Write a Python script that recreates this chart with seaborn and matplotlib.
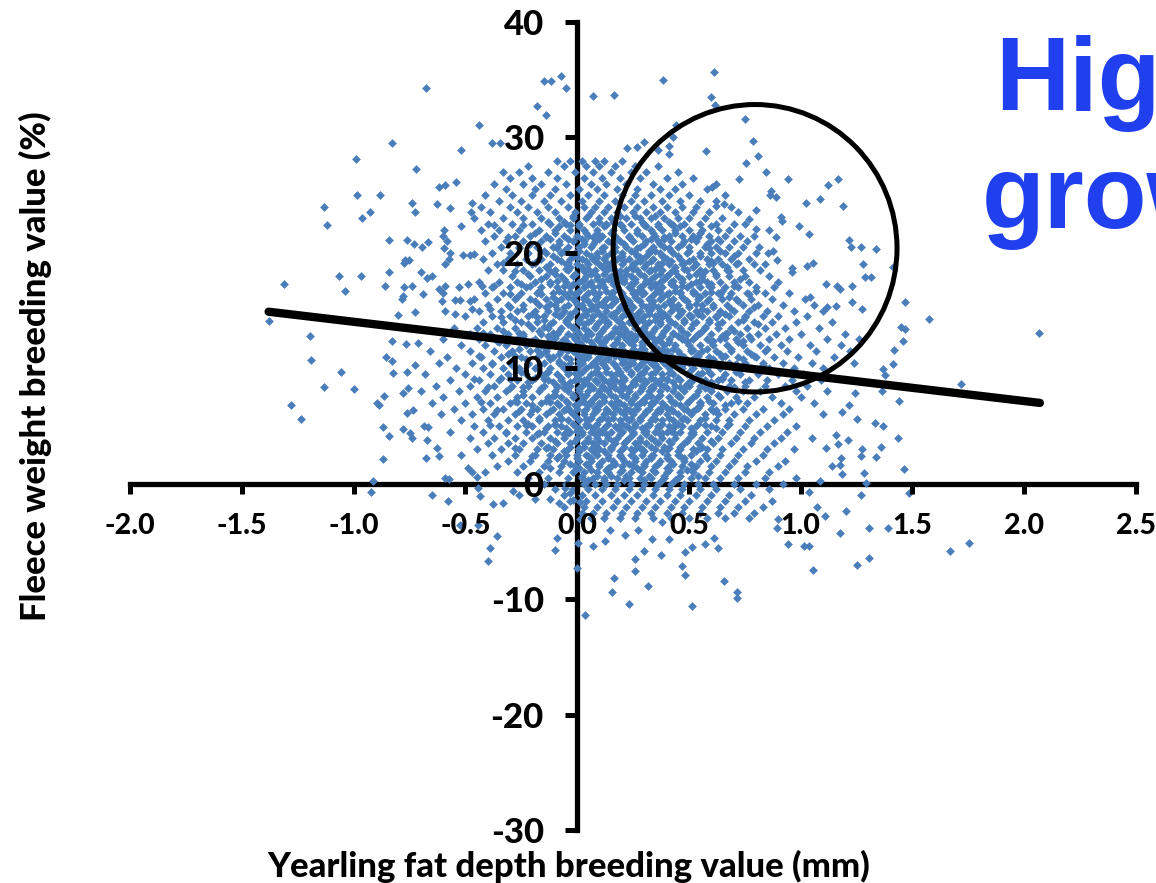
import pandas as pd
import matplotlib
matplotlib.use("Agg")
import matplotlib.pyplot as plt
import seaborn as sns
from matplotlib.patches import Ellipse

# sparse animals around the edge of the cloud, read one by one
edge_fat = [-.675,-.147,-.117,-.07,-.05,-.18,-.14,-.44,-.83,-.52,-.38,-.345,-.99,-.72,-.62,-.59,-.54,-.985,-.88,-1.13,-1.12,-.96,-.925,-.74,-.725,-.625,-.57,-.47,-.475,-.84,-.76,-.73,-.695,-.665,-1.065,-.965,-1.31,-1.04,-.84,-.86,
            -.77,-.75,-.775,-.7,-.672,-.65,-.59,-.568,-.575,-.595,-.58,-.595,-.6,-.51,-.48,-.46,-.52,-.37,-.62,-.59,-.53,-.49,-.425,-.775,-.74,-.78,-.785,-.69,-.605,-.6,-.545,-.525,-.48,-.8,-.725,-.59,-.545,-.47,
            .611,.382,.166,.072,.6,.619,.752,.441,.428,.297,.268,.222,.411,.362,.41,.577,.785,.81,.757,.847,.944,.725,1.165,1.123,.602,.869,.865,.89,1.086,1.023,1.189,.659,.62,.798,.911,.916,.993,1.038,1.217,1.224,1.269,1.339,1.277,1.29,1.315,1.415,1.113,1.162,1.177,1.229,1.231,1.274,1.466,1.12,1.156,1.572,1.043,.96,.96,1.03,1.054,.893,.853,.878,.814,.86,.888,.8,.77,
            2.065,1.715,1.467,1.448,1.459,1.417,1.412,1.37,1.378,1.366,1.438,1.244,1.214,1.186,1.251,1.332,1.37,1.435,1.36,1.336,1.461,1.274,1.269,1.21,1.157,1.169,1.114,1.18,1.177,1.142,1.187,1.284,1.291,1.087,1.036,1.269,1.483,1.202,1.107,1.075,1.175,1.306,1.39,1.755,1.67,1.306,1.254,1.057,.943,1.017,1.038,.893,.9,.714,.716,.655,.514,.481,.468,.23,.316,.156,.165,.26,.26,.377,.297,.631,.57,.614,.513,.483,.125,.073,.148,.216,.274,.334,.41,.379,
            -1.196,-1.19,-1.057,-1.13,-.998,-1.278,-1.233,-1.377,-.897,-.885,-.863,-.867,-.84,-.868,-.914,-.92,-.827,-.855,-.828,-.822,-.767,-.71,-.726,-.76,-.777,-.755,-.76,-.732,-.777,-.747,-.74,-.687,-.665,-.67,-.675,-.62,-.626,-.59,-.575,-.65,-.578,-.52,-.49,-.47,-.448,-.41,-.445,-.436,-.375,-.33,-.285,-.258,-.19,-.36,-.39,-.4,-.526,-.445,-.12,-.09,-.098,.006,.001,.035,.013,.013,-.083,-.06,-.055,-.032,-.017]
edge_fleece = [34.3,34.9,34.9,35.3,34.3,32.7,31.9,31.1,29.5,28.9,29.5,29.5,28.1,27.3,25.7,25.9,26.1,25,25,24,22.4,23,23.5,24.3,23.5,24.2,23.9,24.3,23.5,21.1,21.1,20.8,20.5,20.9,18,18,17.3,16.7,18.3,17.1,
               19.4,19.4,19.1,18.3,17.8,18,19,20,19.5,20.4,21,22,21.5,19.8,19.8,19.9,22.3,22.4,16.9,17.1,17,17.3,17.1,17,17.1,16.3,16,16.4,15.8,16.5,15.9,15.9,15.8,14.6,14.9,15,14.7,15.1,
               35.7,35,33.7,33.6,33.5,32.8,31.6,31.1,30,29.6,29.2,29.1,29.3,28.9,28.6,28.8,29.7,28.4,27.8,27,26.4,26.4,26.4,25.9,25.7,25.4,25,24.8,24.7,24.3,24.1,24.2,24.1,23.7,23.1,22.8,22.3,21.6,21.1,20.5,20.5,20.3,19,17.9,17.9,18.8,17.3,17.1,16.9,17.1,15.7,15.1,15.7,15.3,15.4,14.3,16.2,18.7,18.3,18.9,19.1,19.4,20,20.2,20.5,22,21.4,22.1,22.9,
               13.1,8.6,13.4,13.6,12.4,11.6,10.4,9.9,9.4,8,7.2,7.9,6.8,6.2,5.6,5.3,5,4,3.2,2.3,1.3,3,2.4,3.8,4.2,3.4,3.1,2.2,1.6,1.5,.8,.9,.1,.2,-.7,-1,-.8,-2.4,-2.8,-2,-4.3,-3.8,-3.8,-5.1,-5.8,-6.4,-7,-7.5,-5.2,-5.4,-5.4,-3.8,-3.1,-9.4,-9.9,-8.4,-10.6,-7.9,-7.1,-10.4,-8.9,-9.4,-8.2,-7.6,-6.5,-6.2,-5.8,-5.6,-5.2,-4.7,-5.5,-5.9,-5,-5.4,-4,-4.4,-4,-4.8,-4.8,-3.3,
               12.8,10.7,9.7,8.4,8.2,6.8,5.6,14.1,7,6.8,7.6,4.9,4.1,2.1,.2,-.7,12.4,11,10.6,9.6,12.1,12.2,10.3,9.7,7.9,8.3,6.1,6.4,4.7,4.4,4,5,4.9,3.8,2.2,2.4,3.1,.5,.4,-1,-1.5,2.5,1.4,1,.6,1,-.4,-1.1,-1.8,-1.7,-.6,-1,-1.3,-4.5,-5.6,-6.7,-3.6,-3.6,-1.3,-4.7,-5.7,-5.1,-7.3,-11.4,-3.1,-1.6,-1.7,-2,-.4,-.8,-1.4]

# the dense middle of the cloud, estimated row by row (fleece level, then fat depths)
core_levels = [28,27.5,27,26.5,26,25.5,25,24.5,24,23.5,23,22.5,22,21.5,21,20.5,20,19.5,19,18.5,18,17.5,17,16.5,16,15.5,15,14.5,14,13.5,13,12.5,12,11.5,11,10.5,10,9.5,9,8.5,8,7.5,7,6.5,6,5.5,5,4.5,4,3.5,3,2.5,2,1.5,1,.5,0,-.5,-1,-1.5,-2,-2.5,-3]
core_fat = [
    [-.09,-.03,.02,.08,.12,.2],
    [-.22,-.06,.04,.1,.17,.26,.36],
    [-.33,-.26,-.13,-.01,.07,.15,.24,.31,.45],
    [-.3,-.2,-.09,.03,.11,.19,.28,.4,.52],
    [-.37,-.24,-.16,-.05,.06,.13,.22,.34,.47,.62],
    [-.32,-.19,-.1,.01,.09,.18,.27,.37,.44,.58],
    [-.41,-.29,-.2,-.12,-.03,.05,.12,.2,.26,.33,.41,.5,.66],
    [-.35,-.25,-.15,-.07,.02,.1,.17,.24,.3,.38,.46,.55,.62],
    [-.43,-.3,-.22,-.13,-.04,.03,.08,.14,.21,.27,.34,.4,.47,.53,.69],
    [-.39,-.27,-.18,-.1,-.01,.06,.12,.18,.25,.31,.37,.44,.52,.59,.72],
    [-.46,-.33,-.24,-.16,-.08,-.02,.04,.1,.15,.22,.28,.33,.39,.45,.5,.57,.65],
    [-.4,-.29,-.2,-.12,-.05,.01,.07,.13,.19,.24,.3,.36,.42,.48,.55,.62,.7,.75],
    [-.43,-.35,-.26,-.17,-.1,-.03,.03,.09,.16,.21,.27,.33,.38,.44,.5,.56,.63,.68],
    [-.37,-.28,-.21,-.14,-.06,0,.05,.11,.17,.23,.29,.35,.41,.47,.52,.59,.66,.73,.79],
    [-.41,-.32,-.24,-.16,-.08,-.02,.03,.08,.14,.19,.25,.31,.36,.42,.48,.53,.6,.64,.7,.76],
    [-.34,-.26,-.18,-.11,-.04,.01,.06,.12,.17,.22,.28,.34,.39,.45,.5,.57,.62,.68,.74],
    [-.38,-.3,-.22,-.14,-.07,-.01,.04,.09,.15,.2,.26,.32,.37,.43,.49,.55,.6,.66,.72,.8],
    [-.42,-.31,-.23,-.16,-.09,-.03,.02,.07,.12,.18,.23,.29,.34,.4,.46,.52,.58,.63,.69,.77],
    [-.36,-.27,-.2,-.12,-.05,0,.05,.1,.14,.2,.25,.31,.36,.41,.47,.53,.59,.65,.71,.79,.84],
    [-.4,-.33,-.24,-.17,-.1,-.04,.03,.08,.13,.17,.22,.27,.33,.38,.43,.49,.55,.61,.67,.74,.82],
    [-.29,-.21,-.14,-.07,-.02,.04,.09,.15,.19,.24,.3,.35,.4,.45,.5,.56,.62,.68,.75,.86],
    [-.44,-.35,-.27,-.19,-.12,-.05,.01,.06,.11,.16,.21,.26,.32,.37,.42,.47,.53,.58,.64,.7,.77,.9],
    [-.38,-.3,-.23,-.16,-.09,-.03,.03,.07,.12,.18,.23,.28,.33,.38,.44,.49,.55,.6,.66,.72,.8,.88],
    [-.41,-.33,-.25,-.18,-.11,-.06,0,.05,.1,.15,.2,.25,.3,.35,.41,.46,.52,.57,.63,.69,.76,.84,.95],
    [-.46,-.36,-.28,-.21,-.14,-.07,-.02,.03,.08,.13,.17,.22,.27,.32,.37,.43,.48,.54,.59,.65,.71,.78,.87,1.02],
    [-.4,-.31,-.24,-.17,-.1,-.04,.02,.06,.11,.15,.2,.24,.29,.34,.39,.45,.5,.56,.61,.67,.74,.81,.92,1.06],
    [-.44,-.34,-.27,-.19,-.13,-.06,-.01,.04,.09,.13,.18,.23,.28,.32,.37,.42,.47,.53,.58,.64,.7,.77,.85,.97,1.1],
    [-.5,-.38,-.3,-.22,-.15,-.08,-.03,.02,.07,.11,.16,.2,.25,.3,.35,.4,.45,.51,.56,.62,.68,.75,.83,.9,1.03],
    [-.42,-.33,-.25,-.18,-.11,-.05,.01,.05,.1,.14,.19,.23,.27,.32,.37,.42,.48,.53,.59,.65,.72,.79,.87,.98,1.14],
    [-.55,-.45,-.36,-.28,-.2,-.13,-.07,-.02,.03,.08,.12,.17,.21,.26,.3,.35,.4,.46,.51,.57,.63,.69,.76,.84,.93,1.08],
    [-.48,-.39,-.31,-.24,-.16,-.09,-.04,.01,.06,.1,.15,.19,.24,.28,.33,.38,.43,.49,.54,.6,.66,.73,.81,.89,1.0,1.2],
    [-.6,-.44,-.35,-.27,-.19,-.12,-.06,-.01,.04,.09,.13,.18,.22,.26,.31,.36,.41,.47,.52,.58,.64,.71,.78,.86,.95,1.12,1.26],
    [-.52,-.41,-.32,-.23,-.16,-.1,-.03,.02,.07,.11,.16,.2,.25,.29,.34,.39,.44,.5,.55,.61,.67,.74,.82,.91,1.04,1.18],
    [-.66,-.48,-.37,-.29,-.21,-.14,-.07,-.02,.03,.08,.12,.17,.21,.26,.3,.35,.4,.45,.51,.56,.62,.69,.76,.84,.94,1.07,1.22],
    [-.58,-.43,-.34,-.25,-.18,-.11,-.05,.01,.05,.1,.14,.19,.23,.28,.32,.37,.42,.48,.53,.59,.65,.72,.8,.88,.99,1.15],
    [-.62,-.47,-.38,-.3,-.22,-.15,-.08,-.03,.02,.07,.11,.16,.2,.25,.29,.34,.39,.44,.5,.55,.61,.68,.75,.83,.92,1.05,1.24],
    [-.54,-.42,-.33,-.26,-.19,-.12,-.06,0,.04,.09,.13,.18,.22,.27,.31,.36,.41,.47,.52,.58,.64,.7,.78,.86,.97,1.1],
    [-.68,-.5,-.39,-.31,-.23,-.16,-.09,-.04,.01,.06,.1,.15,.19,.24,.28,.33,.38,.43,.49,.54,.6,.66,.73,.81,.9,1.01],
    [-.57,-.44,-.35,-.27,-.2,-.13,-.07,-.01,.03,.08,.12,.17,.21,.26,.3,.35,.4,.46,.51,.57,.63,.69,.77,.85,.96,1.09],
    [-.63,-.48,-.37,-.29,-.22,-.15,-.09,-.03,.02,.06,.11,.15,.2,.24,.29,.34,.39,.44,.5,.55,.61,.68,.75,.84,.93,1.03],
    [-.7,-.53,-.41,-.32,-.24,-.17,-.1,-.04,.01,.05,.1,.14,.19,.23,.28,.32,.37,.43,.48,.54,.6,.67,.74,.82,.98,1.12],
    [-.6,-.45,-.36,-.27,-.2,-.13,-.07,-.02,.03,.08,.12,.17,.22,.26,.31,.36,.41,.46,.52,.58,.64,.71,.79,.87,1.0],
    [-.65,-.5,-.39,-.3,-.23,-.16,-.09,-.04,.01,.06,.1,.15,.19,.24,.28,.33,.38,.44,.49,.55,.61,.69,.76,.91,1.06],
    [-.55,-.42,-.33,-.25,-.18,-.11,-.05,0,.04,.09,.13,.18,.22,.27,.32,.37,.42,.48,.53,.6,.66,.74,.83,.95],
    [-.61,-.47,-.37,-.28,-.21,-.14,-.08,-.02,.03,.07,.12,.16,.21,.25,.3,.35,.4,.45,.51,.57,.63,.7,.8,.92,1.1],
    [-.52,-.4,-.31,-.24,-.17,-.1,-.04,.01,.05,.1,.14,.19,.23,.28,.33,.38,.43,.49,.55,.62,.68,.77,.88],
    [-.46,-.35,-.27,-.2,-.13,-.07,-.01,.04,.08,.13,.17,.22,.26,.31,.36,.41,.47,.53,.6,.67,.75,.85,.98],
    [-.57,-.42,-.32,-.23,-.15,-.09,-.03,.02,.06,.11,.15,.2,.25,.3,.35,.4,.46,.52,.58,.65,.73,.82,.94],
    [-.48,-.37,-.28,-.2,-.12,-.06,0,.05,.09,.14,.18,.23,.28,.33,.38,.44,.5,.56,.63,.71,.79,.91,1.05],
    [-.4,-.31,-.24,-.16,-.09,-.03,.03,.07,.12,.17,.21,.26,.31,.36,.42,.48,.54,.61,.69,.78,.88],
    [-.45,-.34,-.26,-.18,-.11,-.04,.01,.06,.1,.15,.2,.24,.29,.35,.4,.46,.52,.58,.65,.74,.85,.97],
    [-.38,-.28,-.19,-.12,-.05,0,.04,.09,.14,.19,.24,.29,.34,.4,.45,.51,.57,.64,.72,.83],
    [-.31,-.21,-.13,-.06,.01,.06,.11,.16,.21,.26,.31,.37,.42,.48,.55,.62,.7,.8,.93],
    [-.36,-.24,-.15,-.07,-.01,.05,.1,.15,.2,.25,.3,.35,.41,.47,.53,.6,.68,.76,.9],
    [-.27,-.17,-.08,-.02,.03,.09,.14,.19,.24,.29,.35,.4,.46,.52,.59,.66,.75,.86],
    [-.22,-.13,-.04,.02,.07,.12,.18,.23,.28,.33,.39,.45,.51,.57,.64,.72,.84,.98],
    [-.15,-.05,.03,.08,.13,.18,.24,.3,.36,.42,.48,.54,.61,.7,.8,.92],
    [-.1,-.02,.05,.11,.17,.23,.29,.35,.41,.47,.55,.62,.73,.86],
    [-.06,.02,.08,.15,.21,.27,.34,.4,.46,.53,.6,.68,.78],
    [-.03,.04,.11,.18,.24,.31,.37,.44,.5,.58,.66,.75,.87],
    [.03,.09,.16,.22,.29,.35,.42,.48,.56,.64,.72,.83],
    [.02,.07,.13,.2,.27,.33,.4,.47,.55,.63,.7,.79],
    [.06,.12,.19,.26,.34,.42,.5,.58,.66,.77],
]

# second pass over the thick part, in between the rows above
thick_levels = [23.2,22.7,22.3,21.7,21.2,20.8,20.2,19.7,19.3,18.8,18.2,17.7,17.3,16.7,16.2,15.8,15.3,14.7,14.2,13.8,13.2,12.8,12.3,11.7,11.2,10.8,10.3,9.7,9.2,8.8,8.3,7.7,7.2,6.8,6.3,5.7,5.2,4.8,4.3,3.7,3.2,2.8,2.2,1.7,1.2,.7,.3]
thick_fat = [
    [-.02,.05,.19,.26,.35],
    [-.13,-.06,.1,.16,.29,.41],
    [-.08,.01,.12,.2,.31,.36,.46,.6],
    [-.19,-.1,.04,.09,.15,.27,.34,.44,.55],
    [-.12,-.04,.02,.1,.18,.24,.33,.39,.51,.63],
    [-.21,-.08,.03,.07,.16,.21,.3,.37,.47,.58],
    [-.15,-.06,.01,.11,.17,.24,.32,.35,.42,.5,.64],
    [-.11,-.02,.06,.13,.2,.27,.31,.38,.45,.55,.7],
    [-.18,-.07,.04,.08,.16,.21,.28,.33,.42,.5,.6],
    [-.14,-.03,.02,.11,.15,.24,.3,.36,.44,.52,.67],
    [-.22,-.1,-.01,.06,.12,.18,.22,.28,.37,.41,.53,.62],
    [-.16,-.06,.03,.09,.14,.21,.26,.33,.39,.47,.56,.73],
    [-.25,-.12,-.02,.05,.11,.16,.24,.3,.35,.42,.51,.6],
    [-.17,-.08,.01,.07,.13,.19,.25,.29,.36,.44,.52,.65,.8],
    [-.27,-.11,-.04,.03,.09,.15,.21,.26,.33,.38,.47,.55,.68],
    [-.19,-.09,-.01,.05,.12,.17,.23,.28,.34,.41,.49,.58,.72],
    [-.3,-.14,-.06,.02,.08,.13,.19,.25,.31,.36,.43,.5,.61,.79],
    [-.2,-.1,-.03,.04,.1,.16,.22,.27,.32,.39,.46,.54,.66],
    [-.28,-.15,-.05,.01,.06,.12,.18,.24,.29,.35,.41,.48,.59,.74],
    [-.22,-.12,-.04,.03,.09,.14,.2,.25,.31,.37,.44,.52,.63,.81],
    [-.33,-.17,-.08,0,.05,.11,.17,.22,.28,.34,.39,.47,.56,.7],
    [-.24,-.13,-.02,.04,.1,.15,.21,.26,.32,.38,.45,.53,.65,.77],
    [-.35,-.18,-.07,.01,.06,.12,.18,.23,.29,.35,.41,.49,.6,.72],
    [-.26,-.14,-.05,.02,.08,.13,.19,.25,.3,.36,.43,.51,.58,.69,.85],
    [-.31,-.16,-.08,0,.05,.11,.16,.22,.27,.33,.39,.46,.54,.64,.78],
    [-.23,-.12,-.03,.03,.09,.14,.2,.25,.31,.37,.44,.52,.61,.74],
    [-.29,-.17,-.06,.01,.06,.12,.17,.23,.28,.34,.4,.47,.56,.68,.83],
    [-.25,-.13,-.04,.02,.08,.13,.19,.24,.3,.35,.42,.5,.59,.71],
    [-.34,-.19,-.07,0,.05,.11,.16,.21,.27,.33,.38,.45,.54,.65],
    [-.22,-.11,-.03,.03,.09,.14,.19,.25,.31,.36,.43,.51,.6,.75],
    [-.3,-.16,-.06,.01,.07,.12,.17,.23,.29,.34,.4,.48,.57,.69],
    [-.24,-.1,-.02,.04,.09,.15,.2,.26,.32,.37,.45,.53,.63],
    [-.28,-.14,-.05,.02,.06,.12,.18,.24,.29,.35,.42,.5,.59,.72],
    [-.2,-.08,-.01,.05,.1,.16,.21,.27,.33,.39,.46,.55,.66],
    [-.26,-.12,-.03,.03,.08,.14,.19,.25,.31,.37,.43,.52,.61],
    [-.17,-.07,0,.06,.11,.16,.22,.28,.34,.41,.48,.57],
    [-.22,-.1,-.02,.04,.09,.14,.2,.26,.32,.38,.45,.54,.68],
    [-.14,-.05,.01,.07,.12,.18,.23,.29,.36,.43,.51,.62],
    [-.18,-.06,.02,.08,.13,.19,.25,.31,.37,.44,.52],
    [-.1,-.01,.05,.1,.16,.22,.28,.35,.41,.49,.6],
    [-.13,-.03,.03,.09,.15,.21,.27,.33,.39,.46,.56],
    [-.06,.01,.07,.12,.19,.25,.3,.38,.45,.53],
    [-.09,0,.06,.14,.2,.26,.33,.4,.48,.58],
    [-.03,.04,.1,.17,.23,.3,.36,.43,.51],
    [-.01,.06,.13,.2,.28,.34,.41,.49],
    [.02,.09,.15,.22,.32,.39,.46,.54],
    [.05,.12,.21,.3,.38,.44],
]

# third pass, only the solid centre of the cloud
solid_levels = [19.6,18.6,17.6,16.6,15.6,14.6,13.6,12.6,11.6,10.6,9.6,8.6,7.6,6.6,5.6,4.6]
solid_fat = [
    [.0,.09,.19,.28,.39],
    [-.05,.05,.14,.25,.35,.48],
    [-.09,.02,.11,.2,.31,.43,.55],
    [-.03,.07,.16,.27,.37,.46,.6],
    [-.12,.0,.1,.22,.33,.42,.53],
    [-.07,.04,.15,.24,.36,.5,.63],
    [-.15,-.02,.08,.19,.3,.4,.57],
    [-.1,.03,.13,.23,.34,.47,.66],
    [-.18,-.04,.07,.17,.28,.38,.52],
    [-.08,.01,.12,.21,.32,.44,.61],
    [-.14,-.01,.09,.18,.29,.41,.56],
    [-.06,.05,.16,.26,.37,.49],
    [-.11,.02,.11,.22,.33,.45],
    [-.04,.08,.17,.27,.4,.54],
    [-.07,.04,.14,.24,.35,.47],
    [.0,.1,.2,.31,.42],
]

# last pass, patches still looking thin against the picture
patch_levels = [22.4,21.4,20.4,19.1,18.4,17.1,16.4,15.1,14.4,13.1,12.4,11.1,10.4,9.1,8.4,7.1,6.4,5.1,4.4,3.1,2.4,1.4]
patch_fat = [
    [-.24,-.03,.13,.3,.43],
    [-.31,-.14,.07,.23,.39,.54],
    [-.26,-.09,.11,.27,.41,.59],
    [-.33,-.19,-.04,.13,.26,.38,.48,.61,.72],
    [-.28,-.12,.03,.19,.32,.44,.57,.68],
    [-.37,-.21,-.06,.1,.24,.35,.47,.59,.7],
    [-.3,-.16,-.01,.15,.29,.4,.53,.64,.77],
    [-.39,-.24,-.09,.06,.21,.33,.45,.56,.69],
    [-.34,-.18,-.03,.12,.27,.38,.51,.62,.75],
    [-.42,-.26,-.11,.05,.19,.31,.43,.55,.67],
    [-.36,-.2,-.05,.1,.25,.37,.49,.61,.74],
    [-.44,-.28,-.13,.02,.17,.3,.42,.54,.66,.79],
    [-.38,-.22,-.07,.08,.23,.35,.47,.59,.71],
    [-.46,-.3,-.15,.01,.16,.28,.4,.52,.65],
    [-.4,-.24,-.09,.06,.21,.33,.46,.58,.7],
    [-.43,-.27,-.12,.03,.18,.3,.43,.55],
    [-.36,-.2,-.06,.09,.23,.36,.49,.62],
    [-.39,-.23,-.1,.05,.19,.32,.44,.57],
    [-.32,-.17,-.04,.1,.25,.38,.51],
    [-.28,-.14,.01,.15,.28,.41,.55],
    [-.2,-.08,.05,.19,.33,.46],
    [-.12,.01,.14,.27,.4,.52],
]

# regression line ends and the highlighted region
trend_fat = [-1.38, 2.07]
trend_fleece = [14.9, 7.0]
circle_fat, circle_fleece = 0.796, 20.4
circle_w, circle_h = 1.27, 24.9

x_ticks = [-2.0, -1.5, -1.0, -0.5, 0.0, 0.5, 1.0, 1.5, 2.0, 2.5]
y_ticks = [-30, -20, -10, 0, 10, 20, 30, 40]


def main():
    rows = [pd.DataFrame({"fat": edge_fat, "fleece": edge_fleece})]
    passes = [(core_levels, core_fat), (thick_levels, thick_fat),
              (solid_levels, solid_fat), (patch_levels, patch_fat)]
    for levels, fat_rows in passes:
        for level, fats in zip(levels, fat_rows):
            rows.append(pd.DataFrame({"fat": fats, "fleece": level}))
    df = pd.concat(rows, ignore_index=True)

    sns.set_theme(style="white", rc={"axes.edgecolor": "black", "text.color": "black",
                                     "xtick.color": "black", "ytick.color": "black",
                                     "xtick.bottom": True, "ytick.left": True})
    plt.rcParams["font.family"] = ["Lato", "DejaVu Sans"]

    fig = plt.figure(figsize=(11.56, 8.83), dpi=100)
    ax = fig.add_axes([130 / 1156, 1 - 830 / 883, 1006 / 1156, 808 / 883])

    sns.scatterplot(data=df, x="fat", y="fleece", marker="D", s=20, color="#4A7EBB",
                    linewidth=0, ax=ax, zorder=1, clip_on=False)
    sns.lineplot(x=trend_fat, y=trend_fleece, color="black", linewidth=6, ax=ax,
                 zorder=3, solid_capstyle="round")
    ax.add_patch(Ellipse((circle_fat, circle_fleece), circle_w, circle_h, fill=False,
                         edgecolor="black", linewidth=3.6, zorder=3))

    ax.set_xlim(-2.0, 2.5)
    ax.set_ylim(-30, 40)
    for side in ["top", "right"]:
        ax.spines[side].set_visible(False)
    ax.spines["left"].set_position(("data", 0))
    ax.spines["bottom"].set_position(("data", 0))
    for side in ["left", "bottom"]:
        ax.spines[side].set_linewidth(3.8)
        ax.spines[side].set_zorder(0.5)

    # tick labels sit above the points, the axis lines under them
    ax.set_axisbelow(False)
    ax.set_xticks(x_ticks)
    ax.set_xticklabels([f"{v:.1f}" for v in x_ticks], fontsize=20.5, fontweight=900)
    ax.set_yticks(y_ticks)
    ax.set_yticklabels([str(v) for v in y_ticks], fontsize=25, fontweight=900)
    ax.tick_params(axis="x", direction="out", length=7, width=3.6, color="black", pad=14)
    ax.tick_params(axis="y", direction="out", length=9, width=3.6, color="black", pad=15)
    ax.patch.set_alpha(0)

    ax.set_xlabel("")
    ax.set_ylabel("")
    fig.text(569 / 1156, 1 - 866 / 883, "Yearling fat depth breeding value (mm)", ha="center",
             va="center", fontsize=25, fontweight=900)
    fig.text(35 / 1156, 1 - 366 / 883, "Fleece weight breeding value (%)", ha="center",
             va="center", rotation=90, fontsize=25, fontweight=900)

    # big title runs off the right edge of the slide
    fig.text(995 / 1156, 1 - 110 / 883, "High", color="#2040F0", fontsize=74,
             fontweight="bold", family=["Liberation Sans"], va="baseline")
    fig.text(982 / 1156, 1 - 228 / 883, "growth", color="#2040F0", fontsize=74,
             fontweight="bold", family=["Liberation Sans"], va="baseline")

    fig.savefig("out.png", dpi=100)


if __name__ == "__main__":
    main()
